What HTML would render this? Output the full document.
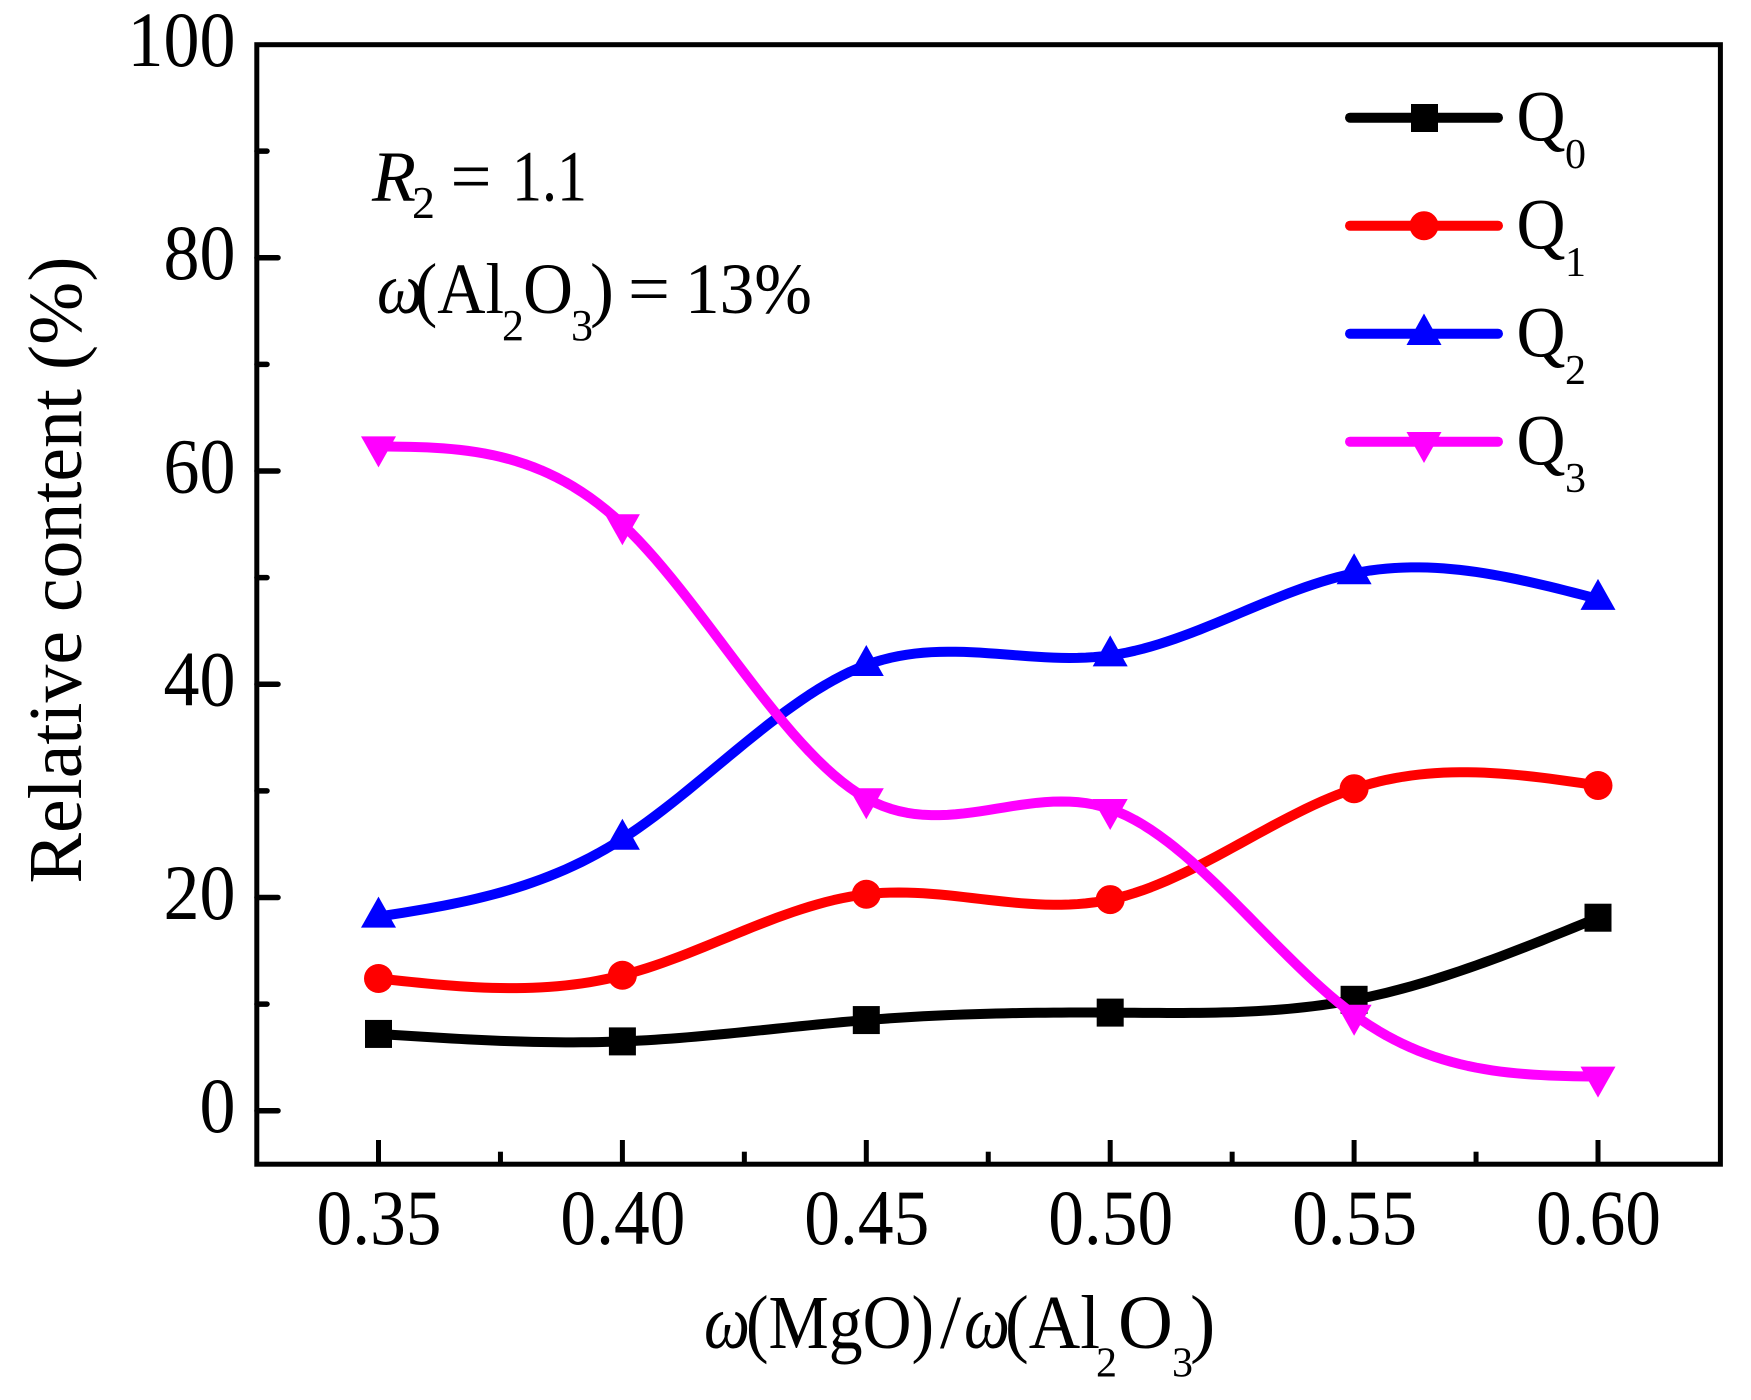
<!DOCTYPE html>
<html lang="en">
<head>
<meta charset="utf-8">
<title>Relative content vs MgO/Al2O3</title>
<style>
html,body{margin:0;padding:0;background:#fff;width:1751px;height:1400px;overflow:hidden}
svg{display:block}
text{font-family:"Liberation Serif","DejaVu Serif",serif;fill:#000}
</style>
</head>
<body>
<svg id="chart" xmlns="http://www.w3.org/2000/svg" width="1751" height="1400" viewBox="0 0 1751 1400">
  <rect x="256.8" y="44.7" width="1463.6" height="1119.5" fill="none" stroke="#000" stroke-width="5"/>
  <g id="ticks"></g>
  <g id="series"></g>

  <text transform="translate(81,883.5) rotate(-90)" font-size="76" textLength="627" lengthAdjust="spacingAndGlyphs">Relative content (%)</text>

  <g font-size="76">
    <text x="704" y="1348" font-style="italic" textLength="46" lengthAdjust="spacingAndGlyphs">ω</text>
    <text x="746" y="1348" textLength="188" lengthAdjust="spacingAndGlyphs">(MgO)</text>
    <text x="940" y="1348">/</text>
    <text x="964" y="1348" font-style="italic" textLength="46" lengthAdjust="spacingAndGlyphs">ω</text>
    <text x="1005" y="1348" textLength="95" lengthAdjust="spacingAndGlyphs">(Al</text>
    <text x="1096" y="1376.5" font-size="42">2</text>
    <text x="1118" y="1348">O</text>
    <text x="1172" y="1376.5" font-size="42">3</text>
    <text x="1190" y="1348">)</text>
  </g>

  <g font-size="72">
    <text x="372" y="200.7" font-style="italic">R</text>
    <text x="412" y="218" font-size="46">2</text>
    <text x="450.5" y="200.7" textLength="41" lengthAdjust="spacingAndGlyphs">=</text>
    <text x="512" y="200.7" textLength="75" lengthAdjust="spacingAndGlyphs">1.1</text>
  </g>
  <g font-size="72">
    <text x="377" y="313" font-style="italic" textLength="46" lengthAdjust="spacingAndGlyphs">ω</text>
    <text x="415" y="313" textLength="89" lengthAdjust="spacingAndGlyphs">(Al</text>
    <text x="502" y="340" font-size="44">2</text>
    <text x="523" y="313" textLength="50" lengthAdjust="spacingAndGlyphs">O</text>
    <text x="571" y="340" font-size="44">3</text>
    <text x="590" y="313">)</text>
    <text x="628" y="313" textLength="42" lengthAdjust="spacingAndGlyphs">=</text>
    <text x="685" y="313" textLength="127" lengthAdjust="spacingAndGlyphs">13%</text>
  </g>

  <g>
    <g>
      <line x1="1350" y1="117.7" x2="1498" y2="117.7" stroke="#000" stroke-width="10" stroke-linecap="round"/>
      <rect x="1411" y="104" width="27" height="28" fill="#000"/>
      <text x="1516.5" y="140.5" font-size="72" textLength="49" lengthAdjust="spacingAndGlyphs">Q</text>
      <text x="1565" y="168" font-size="42">0</text>
    </g>
    <g>
      <line x1="1350" y1="225.7" x2="1498" y2="225.7" stroke="#f00" stroke-width="10" stroke-linecap="round"/>
      <circle cx="1424" cy="225.7" r="14.5" fill="#f00"/>
      <text x="1516.5" y="248.5" font-size="72" textLength="49" lengthAdjust="spacingAndGlyphs">Q</text>
      <text x="1565" y="276" font-size="42">1</text>
    </g>
    <g>
      <line x1="1350" y1="333.7" x2="1498" y2="333.7" stroke="#00f" stroke-width="10" stroke-linecap="round"/>
      <polygon points="1424,313.5 1441.5,345 1406.5,345" fill="#00f"/>
      <text x="1516.5" y="356.5" font-size="72" textLength="49" lengthAdjust="spacingAndGlyphs">Q</text>
      <text x="1565" y="384" font-size="42">2</text>
    </g>
    <g>
      <line x1="1350" y1="441.7" x2="1498" y2="441.7" stroke="#f0f" stroke-width="10" stroke-linecap="round"/>
      <polygon points="1424,463 1441.5,432 1406.5,432" fill="#f0f"/>
      <text x="1516.5" y="464.5" font-size="72" textLength="49" lengthAdjust="spacingAndGlyphs">Q</text>
      <text x="1565" y="492" font-size="42">3</text>
    </g>
  </g>
</svg>
<script>
// Chart data
const categories = [0.35, 0.40, 0.45, 0.50, 0.55, 0.60];
const q0Values = [7.2, 6.5, 8.5, 9.2, 10.4, 18.1];
const q1Values = [12.4, 12.7, 20.3, 19.8, 30.2, 30.5];
const q2Values = [18.2, 25.5, 41.8, 42.7, 50.4, 48.0];
const q3Values = [62.3, 55.0, 29.3, 28.3, 9.0, 3.2];
const xTickLabels = ['0.35', '0.40', '0.45', '0.50', '0.55', '0.60'];
const yTickLabels = ['0', '20', '40', '60', '80', '100'];

const NS = 'http://www.w3.org/2000/svg';
const xScale = v => 378.5 + (v - 0.35) / 0.05 * 243.9;
const yScale = v => 1110.7 - v * 10.6625;

function make(tag, attrs, parent) {
  const el = document.createElementNS(NS, tag);
  for (const k in attrs) el.setAttribute(k, attrs[k]);
  parent.appendChild(el);
  return el;
}

// Ticks and tick labels
const tickGroup = document.getElementById('ticks');
const axisBottom = 1164;
const axisLeft = 257;

xTickLabels.forEach(label => {
  const v = parseFloat(label);
  const x = xScale(v);
  const tick = make('line', {x1: x, x2: x, y1: axisBottom, y2: 1140, stroke: '#000', 'stroke-width': 5}, tickGroup);
  
  
  const txt = make('text', {x: x + 0.5, y: 1244, 'font-size': 78, 'text-anchor': 'middle', textLength: 125, lengthAdjust: 'spacingAndGlyphs'}, tickGroup);
  txt.textContent = label;
  
  
  if (v < 0.6) {
    const mx = xScale(v + 0.025);
    const minor = make('line', {x1: mx, x2: mx, y1: axisBottom, y2: 1151.7, stroke: '#000', 'stroke-width': 5}, tickGroup);
    
    
  }
});

yTickLabels.forEach(label => {
  const v = parseFloat(label);
  const y = yScale(v);
  if (v < 100) {
    const tick = make('line', {x1: axisLeft, x2: 278, y1: y, y2: y, stroke: '#000', 'stroke-width': 5.5, 'stroke-linecap': 'round'}, tickGroup);
    
    
    const my = yScale(v + 10);
    const minor = make('line', {x1: axisLeft, x2: 267, y1: my, y2: my, stroke: '#000', 'stroke-width': 5.5, 'stroke-linecap': 'round'}, tickGroup);
    
    
  }
  const txt = make('text', {x: 235.5, y: y + 21.3, 'font-size': 78, 'text-anchor': 'end', textLength: label.length * 36, lengthAdjust: 'spacingAndGlyphs'}, tickGroup);
  txt.textContent = label;
  
  
});

// Natural cubic spline through a series, evaluated in data space
function splinePath(xs, ys) {
  const n = xs.length;
  const h = [], a = new Array(n).fill(0), b = new Array(n).fill(1), c = new Array(n).fill(0), d = new Array(n).fill(0);
  for (let i = 0; i < n - 1; i++) h.push(xs[i + 1] - xs[i]);
  for (let i = 1; i < n - 1; i++) {
    a[i] = h[i - 1];
    b[i] = 2 * (h[i - 1] + h[i]);
    c[i] = h[i];
    d[i] = 6 * ((ys[i + 1] - ys[i]) / h[i] - (ys[i] - ys[i - 1]) / h[i - 1]);
  }
  for (let i = 1; i < n; i++) {
    const m = a[i] / b[i - 1];
    b[i] -= m * c[i - 1];
    d[i] -= m * d[i - 1];
  }
  const M = new Array(n).fill(0);
  M[n - 1] = d[n - 1] / b[n - 1];
  for (let i = n - 2; i >= 0; i--) M[i] = (d[i] - c[i] * M[i + 1]) / b[i];
  let path = '';
  for (let i = 0; i < n - 1; i++) {
    for (let s = 0; s <= 30; s++) {
      const t = xs[i] + h[i] * s / 30;
      const A = (xs[i + 1] - t) / h[i], B = (t - xs[i]) / h[i];
      const y = A * ys[i] + B * ys[i + 1] + ((A * A * A - A) * M[i] + (B * B * B - B) * M[i + 1]) * h[i] * h[i] / 6;
      path += (path ? 'L' : 'M') + xScale(t).toFixed(2) + ' ' + yScale(y).toFixed(2);
    }
  }
  return path;
}

const seriesGroup = document.getElementById('series');

function drawSeries(values, color, kind) {
  const line = make('path', {d: splinePath(categories, values), fill: 'none', stroke: color, 'stroke-width': 10, 'stroke-linejoin': 'round'}, seriesGroup);
  
  
  categories.forEach((c, i) => {
    const x = xScale(c), y = yScale(values[i]);
    let mark;
    if (kind === 'q0') {
      mark = make('rect', {x: x - 13.5, y: y - 14, width: 27, height: 28, fill: color}, seriesGroup);
    } else if (kind === 'q1') {
      mark = make('circle', {cx: x, cy: y, r: 14.5, fill: color}, seriesGroup);
    } else if (kind === 'q2') {
      mark = make('polygon', {points: [x, y - 20, x + 17.5, y + 11, x - 17.5, y + 11].join(' '), fill: color}, seriesGroup);
    } else {
      mark = make('polygon', {points: [x, y + 21, x + 17.5, y - 10, x - 17.5, y - 10].join(' '), fill: color}, seriesGroup);
    }
    
    
  });
}

drawSeries(q0Values, '#000', 'q0');
drawSeries(q1Values, '#f00', 'q1');
drawSeries(q2Values, '#00f', 'q2');
drawSeries(q3Values, '#f0f', 'q3');
</script>
</body>
</html>
